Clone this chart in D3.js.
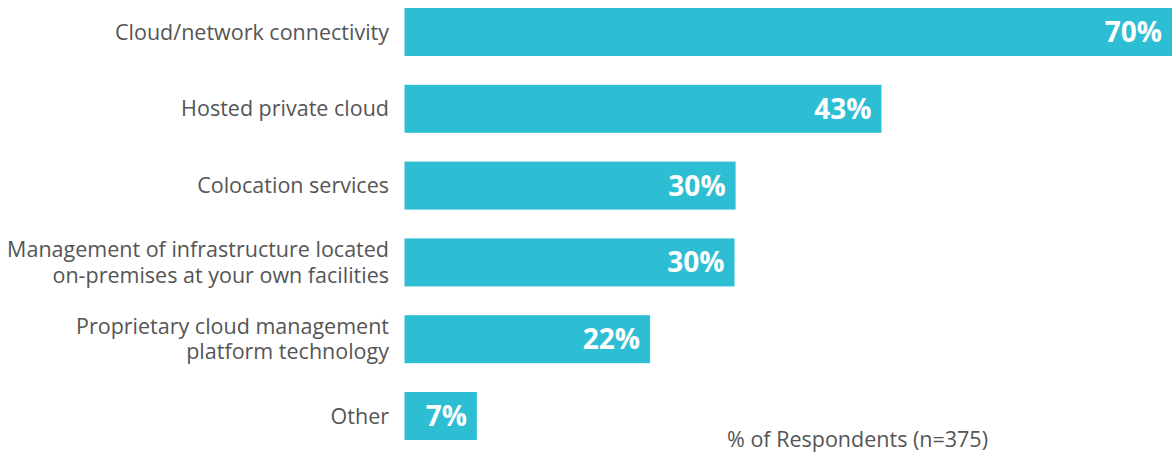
<!DOCTYPE html>
<html>
<head>
<meta charset="utf-8">
<script src="https://cdn.jsdelivr.net/npm/d3@7"></script>
<style>
  body { margin: 0; background: #fff; }
  text { font-family: "Open Sans", sans-serif; }
</style>
</head>
<body>
<div id="chart"></div>
<script>
// categories (multi-line labels split on \n)
const categories = [
  'Cloud/network connectivity',
  'Hosted private cloud',
  'Colocation services',
  'Management of infrastructure located\non-premises at your own facilities',
  'Proprietary cloud management\nplatform technology',
  'Other'
];
const values = [70, 43.5, 30.2, 30.1, 22.4, 6.6];
const valueLabels = ['70%', '43%', '30%', '30%', '22%', '7%'];
const axisTitle = '% of Respondents (n=375)';

const width = 1174, height = 452;
const barColor = '#2ebed4';
const textColor = '#555555';

const svg = d3.select('#chart').append('svg')
  .attr('width', width)
  .attr('height', height);

const x = d3.scaleLinear().domain([0, 70]).range([404.5, 1172]);
const y = d3.scaleBand()
  .domain(categories)
  .range([8, 440])
  .paddingInner(0.375)
  .paddingOuter(0);

// bars
svg.selectAll('rect.bar')
  .data(values)
  .enter()
  .append('rect')
  .attr('class', 'bar')
  .attr('x', x(0))
  .attr('y', (d, i) => y(categories[i]))
  .attr('width', d => x(d) - x(0))
  .attr('height', y.bandwidth())
  .attr('fill', barColor);

// value labels inside bar end
svg.selectAll('text.val')
  .data(values)
  .enter()
  .append('text')
  .attr('class', 'val')
  .attr('x', d => x(d) - 10)
  .attr('y', (d, i) => y(categories[i]) + y.bandwidth() / 2)
  .attr('dy', '0.36em')
  .attr('text-anchor', 'end')
  .style('font-size', '28px')
  .style('font-weight', 700)
  .style('fill', '#fff')
  .text((d, i) => valueLabels[i]);

// category labels
const cat = svg.selectAll('text.cat')
  .data(categories)
  .enter()
  .append('text')
  .attr('class', 'cat')
  .attr('text-anchor', 'end')
  .style('font-size', '21.5px')
  .style('fill', textColor)
  .attr('transform', d => `translate(389,${y(d) + y.bandwidth() / 2})`);

cat.each(function (d) {
  const lines = d.split('\n');
  const lh = 25.5;
  const t = d3.select(this);
  lines.forEach((l, j) => {
    t.append('tspan')
      .attr('x', 0)
      .attr('y', (j - (lines.length - 1) / 2) * lh)
      .attr('dy', '0.35em')
      .text(l);
  });
});

// axis title
svg.append('text')
  .attr('x', 988)
  .attr('y', 447)
  .attr('text-anchor', 'end')
  .style('font-size', '21.5px')
  .style('fill', textColor)
  .text(axisTitle);
</script>
</body>
</html>
